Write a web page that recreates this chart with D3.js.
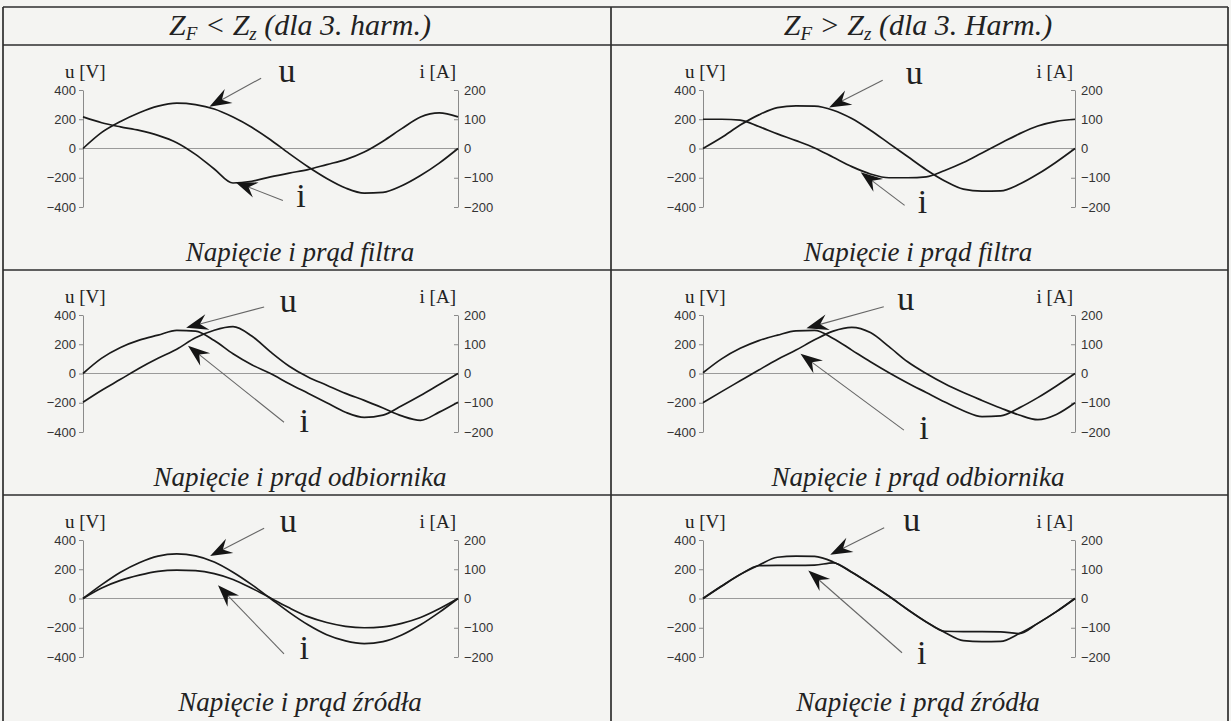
<!DOCTYPE html>
<html>
<head>
<meta charset="utf-8">
<script src="https://cdn.jsdelivr.net/npm/d3@7"></script>
<style>
  body { margin: 0; background: #f4f4f2; }
  svg { display: block; }
</style>
</head>
<body>
<div id="chart"></div>
<script>
// u / i przebiegi - filtr wyzszych harmonicznych

const WIDTH = 1231;
const HEIGHT = 721;

// time axis (one period, normalised)
const T = [0, 0.05, 0.1, 0.15, 0.2, 0.25, 0.3, 0.35, 0.4, 0.45, 0.5,
           0.55, 0.6, 0.65, 0.7, 0.75, 0.8, 0.85, 0.9, 0.95, 1];

// Z_F < Z_z : filtr
const uFiltraA = [0, 110, 185, 245, 290, 310, 300, 270, 215, 145, 60, -35, -125, -205, -270, -305, -300, -255, -185, -100, 0];
const iFiltraA = [108, 88, 74, 62, 45, 20, -20, -70, -118, -112, -97, -84, -72, -55, -38, -12, 25, 68, 108, 122, 108];
// Z_F > Z_z : filtr
const uFiltraB = [0, 75, 160, 230, 280, 292, 290, 262, 205, 125, 35, -55, -145, -222, -278, -292, -290, -245, -175, -92, 0];
const iFiltraB = [100, 100, 97, 75, 50, 27, 2, -30, -62, -87, -100, -100, -97, -75, -48, -15, 18, 50, 77, 93, 100];
// odbiornik
const uOdbA = [0, 105, 178, 228, 262, 295, 290, 225, 135, 60, 0, -70, -135, -200, -265, -300, -285, -220, -150, -75, 0];
const iOdbA = [-98, -57, -20, 18, 52, 83, 122, 148, 160, 128, 74, 25, -12, -40, -68, -92, -118, -145, -160, -132, -98];
const uOdbB = [5, 100, 172, 225, 262, 292, 295, 240, 160, 80, 5, -65, -130, -195, -255, -295, -290, -235, -165, -85, 0];
const iOdbB = [-100, -62, -25, 12, 48, 80, 115, 145, 158, 140, 92, 40, 0, -35, -65, -92, -118, -142, -158, -140, -100];
// zrodlo
const uZrA = [0, 95, 180, 245, 290, 305, 292, 250, 180, 95, 0, -95, -180, -248, -290, -308, -295, -250, -180, -95, 0];
const iZrA = [0, 36, 62, 80, 93, 97, 95, 85, 65, 35, 2, -32, -62, -82, -95, -100, -97, -85, -65, -35, 0];
const uZrB = [0, 85, 165, 228, 282, 290, 288, 250, 180, 100, 15, -75, -160, -232, -288, -295, -293, -240, -170, -90, 0];
const iZrB = [0, 42, 82, 112, 113, 113, 114, 122, 90, 50, 8, -38, -80, -112, -113, -113, -114, -120, -85, -45, 0];

const U_TICKS = [-400, -200, 0, 200, 400];
const I_TICKS = [-200, -100, 0, 100, 200];

const HEADERS = [["<", " (dla 3. harm.)"], [">", " (dla 3. Harm.)"]];
const SUBTITLES = ["Napięcie i prąd filtra", "Napięcie i prąd odbiornika", "Napięcie i prąd źródła"];

// panels row by row: [u, i]
const U_SERIES = [uFiltraA, uFiltraB, uOdbA, uOdbB, uZrA, uZrB];
const I_SERIES = [iFiltraA, iFiltraB, iOdbA, iOdbB, iZrA, iZrB];

// annotation arrows in data units: label [t, u], tail [t, u], tip [t, u]
const U_ARROWS = [
  [[0.544, 458], [0.475, 481], [0.337, 286]],
  [[0.568, 444], [0.483, 466], [0.339, 280]],
  [[0.547, 423], [0.483, 455], [0.275, 313]],
  [[0.545, 434], [0.486, 457], [0.278, 310]],
  [[0.547, 458], [0.483, 481], [0.339, 290]],
  [[0.561, 461], [0.487, 484], [0.342, 300]]
];
const I_ARROWS = [
  [[0.581, -401], [0.533, -355], [0.406, -229]],
  [[0.59, -440], [0.542, -389], [0.424, -162]],
  [[0.59, -399], [0.536, -333], [0.28, 190]],
  [[0.594, -450], [0.54, -387], [0.262, 135]],
  [[0.59, -412], [0.536, -378], [0.36, 90]],
  [[0.588, -450], [0.535, -371], [0.283, 191]]
];

const TABLE = {left: 3, mid: 611, right: 1228, top: 7, head: 45};
const ROW_TOPS = [45, 270, 495];
const PLOT_X = [[83, 458], [703, 1075]];
const COL_CENTER = [300, 918];

const SERIF = "'Liberation Serif', 'Times New Roman', serif";
const SANS = "'Liberation Sans', Arial, sans-serif";

const svg = d3.select("#chart")
  .append("svg")
    .attr("width", WIDTH)
    .attr("height", HEIGHT);

svg.append("rect")
  .attr("width", WIDTH)
  .attr("height", HEIGHT)
  .attr("fill", "#f4f4f2");

// table grid
const gridLines = [
  [TABLE.left, TABLE.top, TABLE.right, TABLE.top],
  [TABLE.left, TABLE.head, TABLE.right, TABLE.head],
  [TABLE.left, ROW_TOPS[1], TABLE.right, ROW_TOPS[1]],
  [TABLE.left, ROW_TOPS[2], TABLE.right, ROW_TOPS[2]],
  [TABLE.left, TABLE.top, TABLE.left, HEIGHT],
  [TABLE.mid, TABLE.top, TABLE.mid, HEIGHT],
  [TABLE.right, TABLE.top, TABLE.right, HEIGHT]
];
svg.append("g")
  .selectAll("line")
  .data(gridLines)
  .enter()
  .append("line")
    .attr("x1", (d) => { return d[0]; })
    .attr("y1", (d) => { return d[1]; })
    .attr("x2", (d) => { return d[2]; })
    .attr("y2", (d) => { return d[3]; })
    .attr("stroke", "#2e2e2e")
    .attr("stroke-width", 1.7);

// column headers
HEADERS.forEach((h, c) => {
  const t = svg.append("text")
    .attr("x", COL_CENTER[c])
    .attr("y", 35)
    .attr("text-anchor", "middle")
    .attr("font-family", SERIF)
    .attr("font-style", "italic")
    .attr("font-size", 30)
    .attr("fill", "#222");
  t.append("tspan").text("Z");
  t.append("tspan").attr("dy", 5).attr("font-size", 19).text("F");
  t.append("tspan").attr("dy", -5).text(" " + h[0] + " Z");
  t.append("tspan").attr("dy", 5).attr("font-size", 19).text("z");
  t.append("tspan").attr("dy", -5).text(h[1]);
});

function arrow(g, tail, tip) {
  const dx = tip[0] - tail[0], dy = tip[1] - tail[1];
  const len = Math.sqrt(dx * dx + dy * dy);
  const ux = dx / len, uy = dy / len;
  const nx = -uy, ny = ux;
  const L = 22, W = 8;
  g.append("line")
    .attr("x1", tail[0]).attr("y1", tail[1])
    .attr("x2", tip[0] - ux * L * 0.6).attr("y2", tip[1] - uy * L * 0.6)
    .attr("stroke", "#666")
    .attr("stroke-width", 1.1);
  const pts = [
    [tip[0], tip[1]],
    [tip[0] - ux * L + nx * W, tip[1] - uy * L + ny * W],
    [tip[0] - ux * L * 0.65, tip[1] - uy * L * 0.65],
    [tip[0] - ux * L - nx * W, tip[1] - uy * L - ny * W]
  ];
  g.append("polygon")
    .attr("points", pts.map((p) => { return p.join(","); }).join(" "))
    .attr("fill", "#151515");
}

U_SERIES.forEach((uVals, p) => {
  const r = Math.floor(p / 2), c = p % 2;
  const top = ROW_TOPS[r];
  const g = svg.append("g");

  const x = d3.scaleLinear().domain([0, 1]).range(PLOT_X[c]);
  const yU = d3.scaleLinear().domain([-400, 400]).range([top + 162, top + 45]);
  const yI = d3.scaleLinear().domain([-200, 200]).range([top + 162, top + 45]);

  // zero line
  g.append("line")
    .attr("x1", x(0)).attr("x2", x(1))
    .attr("y1", yU(0)).attr("y2", yU(0))
    .attr("stroke", "#9a9a9a")
    .attr("stroke-width", 1);

  // axes
  const left = g.append("g")
    .attr("transform", "translate(" + x(0) + ",0)")
    .call(d3.axisLeft(yU).tickValues(U_TICKS).tickSizeInner(4).tickSizeOuter(0).tickPadding(3));
  const right = g.append("g")
    .attr("transform", "translate(" + x(1) + ",0)")
    .call(d3.axisRight(yI).tickValues(I_TICKS).tickSizeInner(-4).tickSizeOuter(0).tickPadding(6));
  [left, right].forEach((a) => {
    a.select(".domain").attr("stroke", "#8a8a8a");
    a.selectAll(".tick line").attr("stroke", "#8a8a8a");
    a.selectAll(".tick text")
      .attr("font-family", SANS)
      .attr("font-size", 13)
      .attr("fill", "#333");
  });

  // axis titles
  g.append("text")
    .attr("x", x(0) - 18)
    .attr("y", top + 33)
    .attr("font-family", SERIF)
    .attr("font-size", 19)
    .attr("fill", "#222")
    .text("u [V]");
  g.append("text")
    .attr("x", x(1) - 2)
    .attr("y", top + 33)
    .attr("text-anchor", "end")
    .attr("font-family", SERIF)
    .attr("font-size", 19)
    .attr("fill", "#222")
    .text("i [A]");

  // curves
  const uLine = d3.line()
    .x((d, k) => { return x(T[k]); })
    .y((d) => { return yU(d); })
    .curve(d3.curveMonotoneX);
  const iLine = d3.line()
    .x((d, k) => { return x(T[k]); })
    .y((d) => { return yI(d); })
    .curve(d3.curveMonotoneX);

  g.append("path")
    .datum(uVals)
    .attr("d", uLine)
    .attr("fill", "none")
    .attr("stroke", "#1a1a1a")
    .attr("stroke-width", 1.7);
  g.append("path")
    .datum(I_SERIES[p])
    .attr("d", iLine)
    .attr("fill", "none")
    .attr("stroke", "#1a1a1a")
    .attr("stroke-width", 1.7);

  // annotations
  [[U_ARROWS[p], "u"], [I_ARROWS[p], "i"]].forEach((a) => {
    const lab = a[0][0], tail = a[0][1], tip = a[0][2];
    arrow(g, [x(tail[0]), yU(tail[1])], [x(tip[0]), yU(tip[1])]);
    g.append("text")
      .attr("x", x(lab[0]))
      .attr("y", yU(lab[1]))
      .attr("text-anchor", "middle")
      .attr("font-family", SERIF)
      .attr("font-size", 34)
      .attr("fill", "#222")
      .text(a[1]);
  });

  // subtitle
  g.append("text")
    .attr("x", COL_CENTER[c])
    .attr("y", top + 216)
    .attr("text-anchor", "middle")
    .attr("font-family", SERIF)
    .attr("font-style", "italic")
    .attr("font-size", 27)
    .attr("fill", "#222")
    .text(SUBTITLES[r]);
});
</script>
</body>
</html>
